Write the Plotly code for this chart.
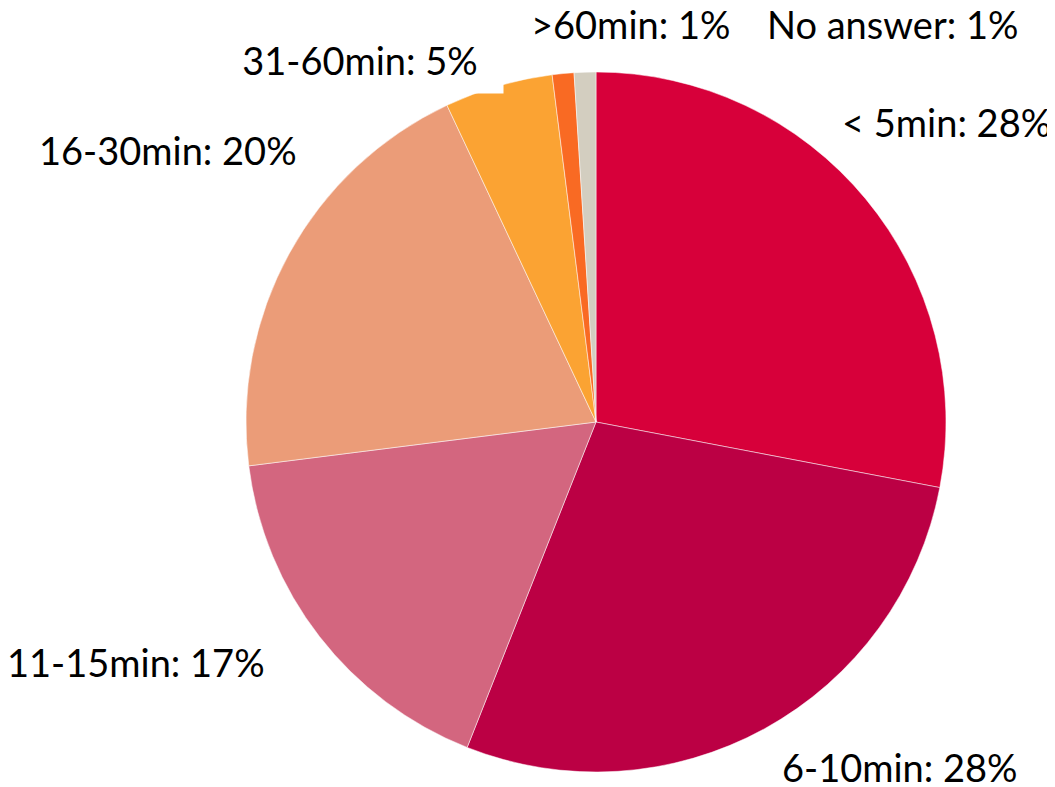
import plotly.graph_objects as go

# datos del gráfico
categorias = ["< 5min", "6-10min", "11-15min", "16-30min", "31-60min", ">60min", "No answer"]
valores = [28, 28, 17, 20, 5, 1, 1]
colores = ["#D7003A", "#BB0044", "#D3667F", "#EB9C78", "#FBA333", "#F96A23", "#D3CEC0"]

# posiciones de las etiquetas (pixeles en la ventana, centro del texto)
pos_etiquetas = [(946, 122), (900, 767), (136, 662), (168, 150), (360, 60), (630, 24), (892, 24)]

# la página pone 8px de margen al cuerpo
OFF = 8
W, H = 1055 - OFF, 787 - OFF
total = sum(valores)


def px_x(x):
    return (x - OFF) / W


def px_y(y):
    return 1 - (y - OFF) / H


fig = go.Figure(
    go.Pie(
        labels=categorias,
        values=valores,
        sort=False,
        direction="clockwise",
        rotation=0,
        marker=dict(colors=colores, line=dict(color="white", width=0.5)),
        textinfo="none",
        hoverinfo="label+percent",
        showlegend=False,
        domain=dict(x=[px_x(246), px_x(946)], y=[px_y(772), px_y(72)]),
    )
)

# etiquetas externas
for cat, val, (px, py) in zip(categorias, valores, pos_etiquetas):
    extra = dict(height=34, borderpad=0)
    if cat == "31-60min":
        # la caja blanca de esta etiqueta tapa un poco el borde del pastel
        extra = dict(width=284, height=64, bgcolor="white")
    fig.add_annotation(
        x=px_x(px), y=px_y(py),
        xref="paper", yref="paper",
        text=f"{cat}: {round(100 * val / total)}%",
        showarrow=False,
        xanchor="center", yanchor="middle",
        font=dict(family="Lato, Open Sans, sans-serif", size=38, color="black"),
        **extra,
    )

fig.update_layout(
    width=W, height=H,
    margin=dict(l=0, r=0, t=0, b=0),
    paper_bgcolor="white",
    plot_bgcolor="white",
)

fig.write_html("out.html")
